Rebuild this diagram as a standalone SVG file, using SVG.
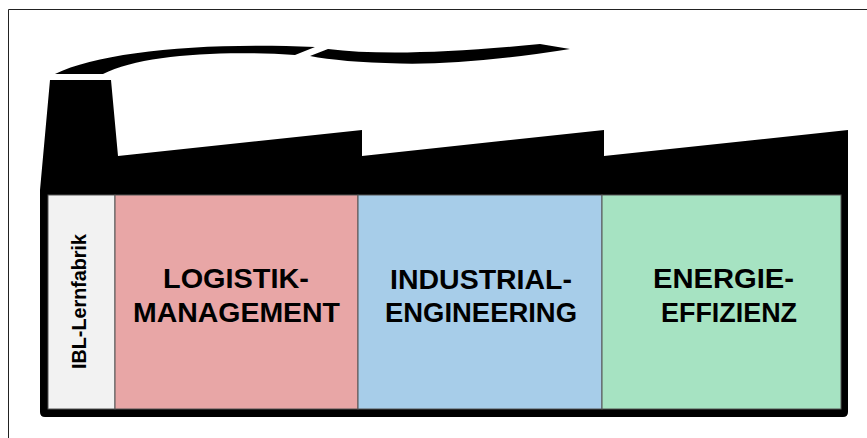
<svg xmlns="http://www.w3.org/2000/svg" width="867" height="438" viewBox="0 0 867 438">
  <style>
    .label { font-family: "Liberation Sans", Arial, sans-serif; font-weight: bold; fill: #000; }
    .big { font-size: 27px; }
    .small { font-size: 20px; }
    .panel { stroke: #555; stroke-width: 1; }
  </style>
  <rect width="867" height="438" fill="#fff"/>
  <!-- thin page frame (open to the right and bottom) -->
  <path d="M8.5,438 V9.5 H867" fill="none" stroke="#222" stroke-width="1"/>

  <!-- smoke from the chimney -->
  <g id="smoke" fill="#000">
    <path d="M55,74 C100,52 200,42 315,47 L295,55 C220,50 140,55 103,74 Z"/>
    <path d="M328,49 Q400,58 540,44 L570,49 Q470,65 400,63.5 Q340,62 310,56 Z"/>
  </g>

  <!-- factory silhouette: chimney, saw-tooth roof and body -->
  <g id="factory">
    <path d="M50,80 L111,80 L118,156 L362,130 L362,156 L604,130 L604,156 L848,130 L848,412 Q848,417 843,417 L45,417 Q40,417 40,412 L40,190 Z" fill="#000"/>
  </g>

  <g id="ibl-lernfabrik">
    <rect class="panel" x="48" y="195" width="67" height="214" fill="#f2f2f2"/>
    <text class="label small" transform="translate(86,369) rotate(-90)" textLength="135" lengthAdjust="spacingAndGlyphs">IBL-Lernfabrik</text>
  </g>

  <g id="logistik-management">
    <rect class="panel" x="115" y="195" width="243" height="214" fill="#e8a6a6"/>
    <text class="label big" x="163" y="288" textLength="146" lengthAdjust="spacingAndGlyphs">LOGISTIK-</text>
    <text class="label big" x="133" y="322" textLength="207" lengthAdjust="spacingAndGlyphs">MANAGEMENT</text>
  </g>

  <g id="industrial-engineering">
    <rect class="panel" x="358" y="195" width="244" height="214" fill="#a7cde9"/>
    <text class="label big" x="390" y="289" textLength="182" lengthAdjust="spacingAndGlyphs">INDUSTRIAL-</text>
    <text class="label big" x="385" y="322" textLength="192" lengthAdjust="spacingAndGlyphs">ENGINEERING</text>
  </g>

  <g id="energie-effizienz">
    <rect class="panel" x="602" y="195" width="239" height="214" fill="#a6e3c2"/>
    <text class="label big" x="653" y="288" textLength="141" lengthAdjust="spacingAndGlyphs">ENERGIE-</text>
    <text class="label big" x="661" y="322" textLength="136" lengthAdjust="spacingAndGlyphs">EFFIZIENZ</text>
  </g>
</svg>
